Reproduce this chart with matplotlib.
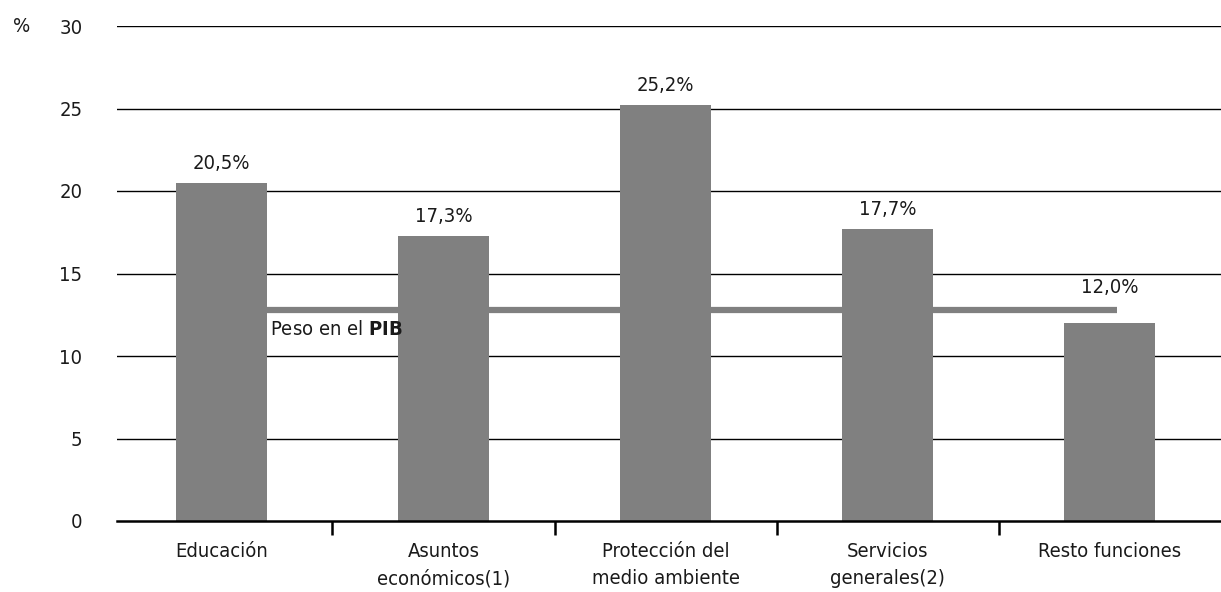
import matplotlib
matplotlib.use("Agg")
import matplotlib.pyplot as plt

# DejaVu Sans Condensed gives the narrow look of the original
plt.rcParams["font.family"] = ["DejaVu Sans"]
plt.rcParams["font.stretch"] = "condensed"

categories = ["Educación", "Asuntos\neconómicos(1)", "Protección del\nmedio ambiente",
              "Servicios\ngenerales(2)", "Resto funciones"]
values = [20.5, 17.3, 25.2, 17.7, 12.0]
value_labels = ["20,5%", "17,3%", "25,2%", "17,7%", "12,0%"]
pib_weight = 12.8
yticks = [0, 5, 10, 15, 20, 25, 30]

grey = "#808080"
txt = "#1a1a1a"
fs = 14.5

fig = plt.figure(figsize=(12.21, 5.92), dpi=100)
ax = fig.add_axes([117 / 1221, 1 - 521 / 592, 1 - 117 / 1221, (521 - 26) / 592])

x = list(range(len(categories)))
for yv in yticks[1:]:
    ax.axhline(yv, color="black", lw=1.0, zorder=1)
ax.bar(x, values, width=0.41, color=grey, zorder=2)
for xi, v, lab in zip(x, values, value_labels):
    # labels that would sit on the PIB line are lifted just above it
    ax.text(xi, max(v + 0.6, pib_weight + 0.75), lab, ha="center", va="bottom",
            fontsize=fs, color=txt)

ax.plot([0.03, 4.03], [pib_weight, pib_weight], color=grey, lw=4.5,
        solid_capstyle="butt", zorder=3)
ax.text(0.22, pib_weight - 0.6, r"Peso en el $\mathbf{PIB}$", ha="left", va="top",
        fontsize=fs, color=txt)

ax.set_xlim(-0.47, 4.5)
ax.set_ylim(0, 30)
ax.set_yticks(yticks)
ax.set_yticklabels([str(t) for t in yticks], fontsize=fs, color=txt)
ax.tick_params(axis="y", length=0, pad=25)

ax.set_xticks(x)
ax.set_xticklabels(categories, fontsize=fs, color=txt, linespacing=1.55, va="top")
ax.tick_params(axis="x", length=0, pad=15)
ax.set_xticks([0.5, 1.5, 2.5, 3.5], minor=True)
ax.tick_params(axis="x", which="minor", length=10, width=1.8, color="black", direction="out")

for s in ["top", "right", "left"]:
    ax.spines[s].set_visible(False)
ax.spines["bottom"].set_linewidth(1.8)
ax.spines["bottom"].set_zorder(4)

fig.text(13 / 1221, 1 - 26 / 592, "%", fontsize=fs, va="center", ha="left", color=txt)

fig.savefig("out.png", dpi=100)
